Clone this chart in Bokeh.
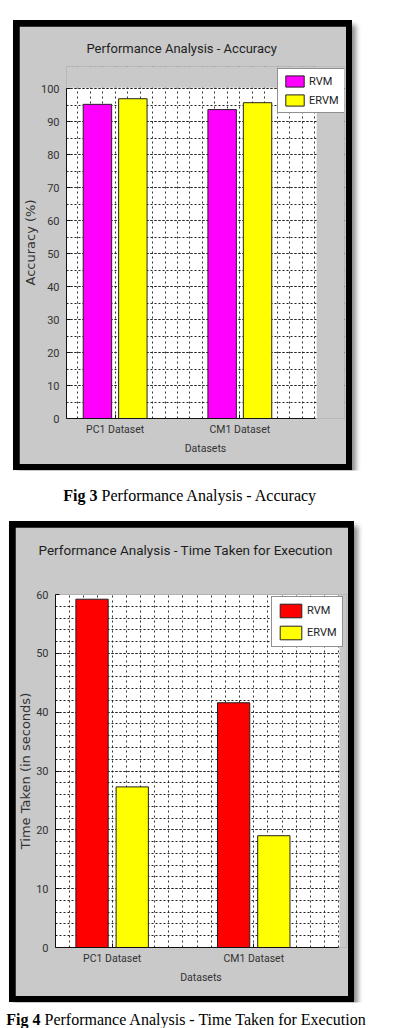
from bokeh.plotting import figure
from bokeh.models import (Range1d, FixedTicker, SingleIntervalTicker, Legend, LegendItem,
                          BoxAnnotation, Title)
from bokeh.layouts import column
from bokeh.embed import file_html
from bokeh.resources import INLINE
from bokeh.core.properties import value

# ---- data ----
datasets = ["PC1 Dataset", "CM1 Dataset"]
methods = ["RVM", "ERVM"]
accuracy_rvm = [95.2, 93.6]
accuracy_ervm = [96.9, 95.7]
time_rvm = [59.2, 41.6]
time_ervm = [27.3, 19.0]

FONT = "Roboto"
GRAY = "#c9c9c9"


def chart(title, ylabel, rvm_vals, ervm_vals, rvm_color, ymax, minor_n,
          width, height, borders, axis_h, axis_w, title_size, title_gap, title_offset,
          legend_xy, glyph_wh, x0, tick_size, label_size):
    bl, br, bt, bb = borders
    frame_w = width - bl - br
    frame_h = height - bt - bb
    # the axes region is axis_w x axis_h px; the frame is a bit larger so the legend can overhang
    x_unit = axis_w / 2.0
    x_end = x0 + frame_w / x_unit
    y_end = ymax * frame_h / axis_h
    x_axis_end = x0 + 2.0
    p = figure(width=width, height=height, x_range=Range1d(x0, x_end), y_range=Range1d(0, y_end),
               output_backend="svg", toolbar_location=None, title=None,
               min_border_left=bl, min_border_right=br, min_border_top=bt, min_border_bottom=bb,
               border_fill_color=GRAY, background_fill_color="white")
    # spacer between frame and title, then the title itself
    p.add_layout(Title(text=" ", text_font_size="1px", standoff=title_gap), "above")
    p.add_layout(Title(text=title, align="left", offset=title_offset, standoff=0,
                       text_font=FONT, text_font_size=title_size, text_font_style="normal",
                       text_color="#1e1e1e"), "above")

    idx = [i + 1 for i in range(len(datasets))]
    x_r = [i - 0.142 for i in idx]
    x_e = [i + 0.142 for i in idx]
    r1 = p.vbar(x=x_r, top=rvm_vals, width=0.228, bottom=0,
                fill_color=rvm_color, line_color="#222222", line_width=1)
    r2 = p.vbar(x=x_e, top=ervm_vals, width=0.228, bottom=0,
                fill_color="#ffff00", line_color="#222222", line_width=1)

    p.outline_line_color = None

    p.xaxis.ticker = FixedTicker(ticks=idx)
    p.xaxis.major_label_overrides = {i: d for i, d in zip(idx, datasets)}
    p.xaxis.axis_label = "Datasets"
    p.xaxis.bounds = (x0, x_axis_end)
    p.yaxis.ticker = SingleIntervalTicker(interval=10, num_minor_ticks=minor_n)
    p.yaxis.axis_label = ylabel
    p.yaxis.bounds = (0, ymax)

    for ax in (p.xaxis, p.yaxis):
        ax.axis_line_color = "#111111"
        ax.major_tick_in = 4
        ax.major_tick_out = 0
        ax.major_tick_line_color = "#111111"
        ax.minor_tick_line_color = None
        ax.major_label_text_font = FONT
        ax.major_label_text_color = "#333333"
    p.yaxis.major_label_text_font_size = tick_size
    p.xaxis.major_label_text_font_size = label_size
    p.yaxis.major_label_standoff = 3
    p.xaxis.major_label_standoff = 4
    p.xaxis.axis_label_text_font = FONT
    p.xaxis.axis_label_text_font_size = label_size
    p.xaxis.axis_label_text_font_style = "normal"
    p.xaxis.axis_label_text_color = "#333333"
    p.xaxis.axis_label_standoff = 3
    p.yaxis.axis_label_text_font = "DejaVu Sans"
    p.yaxis.axis_label_text_font_size = "13px"
    p.yaxis.axis_label_text_font_style = "normal"
    p.yaxis.axis_label_text_color = "#333333"
    p.yaxis.axis_label_standoff = 0

    p.xgrid.ticker = SingleIntervalTicker(interval=0.1, num_minor_ticks=0)
    p.xgrid.grid_line_color = "#333333"
    p.xgrid.grid_line_dash = "2 3"
    p.xgrid.grid_line_width = 1
    p.ygrid.grid_line_color = "#222222"
    p.ygrid.grid_line_dash = "2 2"
    p.ygrid.minor_grid_line_color = "#222222"
    p.ygrid.minor_grid_line_dash = "2 2"

    # grey out the overhang region outside the axes box (legend is drawn on top)
    p.add_layout(BoxAnnotation(left=x_axis_end + 0.006, fill_color=GRAY, fill_alpha=1.0,
                               line_color=None))
    if y_end > ymax:
        p.add_layout(BoxAnnotation(bottom=ymax + 0.2, fill_color=GRAY, fill_alpha=1.0,
                                   line_color=None))

    gw, gh = glyph_wh
    leg = Legend(items=[LegendItem(label=methods[0], renderers=[r1]),
                        LegendItem(label=methods[1], renderers=[r2])],
                 location=legend_xy, glyph_width=gw, glyph_height=gh,
                 label_text_font=FONT, label_text_font_size="11px",
                 label_text_color="#222222", label_standoff=3, label_height=gh,
                 padding=5, spacing=5, margin=0,
                 border_line_color="#222222", border_line_width=1,
                 background_fill_color="white", background_fill_alpha=1.0)
    p.add_layout(leg)
    return p


def framed(fig, margin):
    return column(fig, margin=margin,
                  styles={"background-color": "black", "padding": "6px",
                          "box-shadow": "4px 5px 5px rgba(0,0,0,0.45)"})


def caption(bold, rest, x_split, h, y_mid):
    c = figure(width=403, height=h, x_range=Range1d(0, 403), y_range=Range1d(0, h),
               output_backend="svg", toolbar_location=None,
               x_axis_location=None, y_axis_location=None, min_border=0,
               border_fill_color="white", background_fill_color="white")
    c.grid.visible = False
    c.outline_line_color = None
    c.text(x=[x_split], y=[y_mid], text=[bold], text_font=value("Liberation Serif"),
           text_font_style="bold", text_font_size="16px", text_align="right",
           text_baseline="middle", text_color="black")
    c.text(x=[x_split + 4], y=[y_mid], text=[rest], text_font=value("Liberation Serif"),
           text_font_style="normal", text_font_size="16px", text_align="left",
           text_baseline="middle", text_color="black")
    return c


p1 = chart("Performance Analysis - Accuracy", "Accuracy (%)", accuracy_rvm, accuracy_ervm,
           "#ff00ff", 100, 2, 327, 438, (43, 2, 40, 46), 330, 253, "13px", 8, 20,
           (211, 305), (23, 14), 0.61, "11px", "10.5px")
p2 = chart("Performance Analysis - Time Taken for Execution", "Time Taken (in seconds)",
           time_rvm, time_ervm, "#ff0000", 60, 5, 333, 469, (33, 2, 67, 49), 353, 290, "13.5px", 34, -17,
           (216, 300), (27, 17), 0.6, "11px", "10.5px")

cap1 = caption("Fig 3", "Performance Analysis - Accuracy", 97, 51, 26)
cap2 = caption("Fig 4", "Performance Analysis - Time Taken for Execution", 40, 26, 9)

root = column(framed(p1, (20, 0, 0, 13)), cap1, framed(p2, (0, 0, 0, 9)), cap2,
              styles={"background-color": "white"})

open("out.html", "w").write(file_html(root, INLINE))
